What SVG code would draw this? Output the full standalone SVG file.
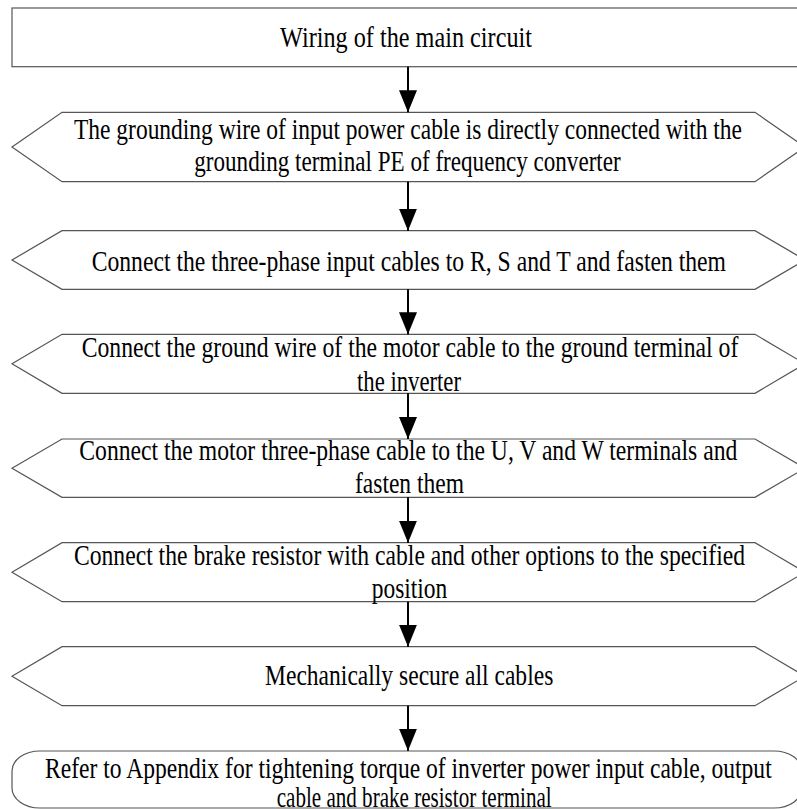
<svg xmlns="http://www.w3.org/2000/svg" width="797" height="809" viewBox="0 0 797 809">
<style>
.shape{fill:#ffffff;stroke:#555555;stroke-width:1.2}
.t{font-family:"Liberation Serif","Times New Roman",serif;font-size:29px;fill:#000000}
.conn{stroke:#000000;stroke-width:2;fill:none}
</style>
<defs>
<marker id="arr" viewBox="0 0 22 18" refX="22" refY="9" markerWidth="22" markerHeight="18" markerUnits="userSpaceOnUse" orient="auto">
<path d="M0,0 L22,9 L0,18 Z" fill="#000000"/>
</marker>
</defs>
<rect width="797" height="809" fill="#ffffff"/>
<g id="n0">
<rect class="shape" x="12" y="8" width="800" height="58.7"/>
<text class="t" x="280" y="47.3" textLength="252" lengthAdjust="spacingAndGlyphs">Wiring of the main circuit</text>
</g>
<g id="n1">
<polygon class="shape" points="12,147 62,112.3 755,112.3 805,147 755,181.7 62,181.7"/>
<text class="t" x="74" y="138.5" textLength="668" lengthAdjust="spacingAndGlyphs">The grounding wire of input power cable is directly connected with the</text>
<text class="t" x="194.3" y="170.5" textLength="426.4" lengthAdjust="spacingAndGlyphs">grounding terminal PE of frequency converter</text>
</g>
<g id="n2">
<polygon class="shape" points="12,260 62,230.7 755,230.7 805,260 755,289.3 62,289.3"/>
<text class="t" x="91.7" y="270.7" textLength="634.3" lengthAdjust="spacingAndGlyphs">Connect the three-phase input cables to R, S and T and fasten them</text>
</g>
<g id="n3">
<polygon class="shape" points="12,363.8 62,334.3 755,334.3 805,363.8 755,393.3 62,393.3"/>
<text class="t" x="81.7" y="356.7" textLength="656.6" lengthAdjust="spacingAndGlyphs">Connect the ground wire of the motor cable to the ground terminal of</text>
<text class="t" x="357" y="390.7" textLength="104" lengthAdjust="spacingAndGlyphs">the inverter</text>
</g>
<g id="n4">
<polygon class="shape" points="12,468.2 62,439 755,439 805,468.2 755,497.3 62,497.3"/>
<text class="t" x="79.3" y="460" textLength="658" lengthAdjust="spacingAndGlyphs">Connect the motor three-phase cable to the U, V and W terminals and</text>
<text class="t" x="355" y="493.3" textLength="109" lengthAdjust="spacingAndGlyphs">fasten them</text>
</g>
<g id="n5">
<polygon class="shape" points="12,572.2 62,542.7 755,542.7 805,572.2 755,601.7 62,601.7"/>
<text class="t" x="74" y="565" textLength="671" lengthAdjust="spacingAndGlyphs">Connect the brake resistor with cable and other options to the specified</text>
<text class="t" x="371.7" y="598.3" textLength="75.6" lengthAdjust="spacingAndGlyphs">position</text>
</g>
<g id="n6">
<polygon class="shape" points="12,676.2 62,646.7 755,646.7 805,676.2 755,705.7 62,705.7"/>
<text class="t" x="265" y="685" textLength="288.3" lengthAdjust="spacingAndGlyphs">Mechanically secure all cables</text>
</g>
<g id="n7">
<rect class="shape" x="12" y="751" width="790" height="57" rx="28" ry="20"/>
<text class="t" x="45" y="778.3" textLength="726.7" lengthAdjust="spacingAndGlyphs">Refer to Appendix for tightening torque of inverter power input cable, output</text>
<text class="t" x="276.7" y="806.7" textLength="275" lengthAdjust="spacingAndGlyphs">cable and brake resistor terminal</text>
</g>
<g id="connectors">
<line class="conn" x1="408" y1="66.7" x2="408" y2="112.3" marker-end="url(#arr)"/>
<line class="conn" x1="408" y1="181.7" x2="408" y2="230.7" marker-end="url(#arr)"/>
<line class="conn" x1="408" y1="289.3" x2="408" y2="334.3" marker-end="url(#arr)"/>
<line class="conn" x1="408" y1="393.3" x2="408" y2="439" marker-end="url(#arr)"/>
<line class="conn" x1="408" y1="497.3" x2="408" y2="542.7" marker-end="url(#arr)"/>
<line class="conn" x1="408" y1="601.7" x2="408" y2="646.7" marker-end="url(#arr)"/>
<line class="conn" x1="408" y1="705.7" x2="408" y2="750.7" marker-end="url(#arr)"/>
</g>
</svg>
